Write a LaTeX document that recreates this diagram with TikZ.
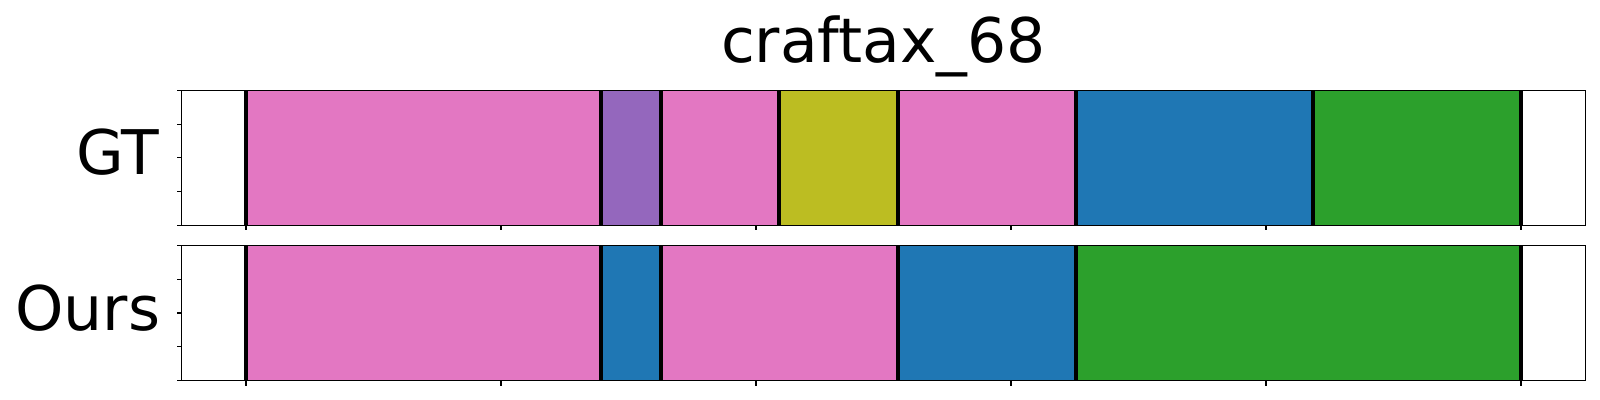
\documentclass[tikz,border=0pt]{standalone}
\usepackage{fontspec}
\setmainfont{DejaVu Sans}
\usetikzlibrary{positioning}

\definecolor{tabpink}{HTML}{E377C2}
\definecolor{tabpurple}{HTML}{9467BD}
\definecolor{tabolive}{HTML}{BCBD22}
\definecolor{tabblue}{HTML}{1F77B4}
\definecolor{tabgreen}{HTML}{2CA02C}

\tikzset{
  frame/.style={draw=black,line width=0.35pt},
  bound/.style={draw=black,line width=1.15pt},
  tickmark/.style={draw=black,line width=0.3pt},
  lbl/.style={inner sep=0pt,font=\fontsize{17.5}{20}\selectfont}
}

\begin{document}
\begin{tikzpicture}[x=0.01cm,y=-0.01cm]
\useasboundingbox (0,0) rectangle (1600,400);

% title
\node[lbl,anchor=base] (title) at (883.4,62.3) {craftax\_68};

% GT row
\foreach \a/\b/\c in {246/601/tabpink,601/661/tabpurple,661/779/tabpink,
    779/897.7/tabolive,897.7/1076/tabpink,1076/1313/tabblue,1313/1521/tabgreen}
  \fill[\c] (\a,90.3) rectangle (\b,225.3);
\foreach \x in {246,601,661,779,897.7,1076,1313,1521}
  \draw[bound] (\x,90.3) -- (\x,225.3);
\draw[frame] (181.5,90.3) rectangle (1585.3,225.3);
\coordinate (gtlabel) at (160,174);
\node[lbl,anchor=base east] (gt) at (gtlabel) {GT};

% Ours row
\foreach \a/\b/\c in {246/601/tabpink,601/661/tabblue,661/897.7/tabpink,
    897.7/1076/tabblue,1076/1521/tabgreen}
  \fill[\c] (\a,245.5) rectangle (\b,380.3);
\foreach \x in {246,601,661,897.7,1076,1521}
  \draw[bound] (\x,245.5) -- (\x,380.3);
\draw[frame] (181.5,245.5) rectangle (1585.3,380.3);
\coordinate (ourslabel) at (161,330);
\node[lbl,anchor=base east] (ours) at (ourslabel) {Ours};

% ticks
\foreach \y in {90.3,245.5} {
  \foreach \k in {0,...,4}
    \draw[tickmark] (181.5,\y+33.75*\k) -- ++(-5,0);
  \foreach \k in {0,...,5}
    \draw[tickmark] (246+255*\k,\y+135) -- ++(0,5);
}
\end{tikzpicture}
\end{document}
